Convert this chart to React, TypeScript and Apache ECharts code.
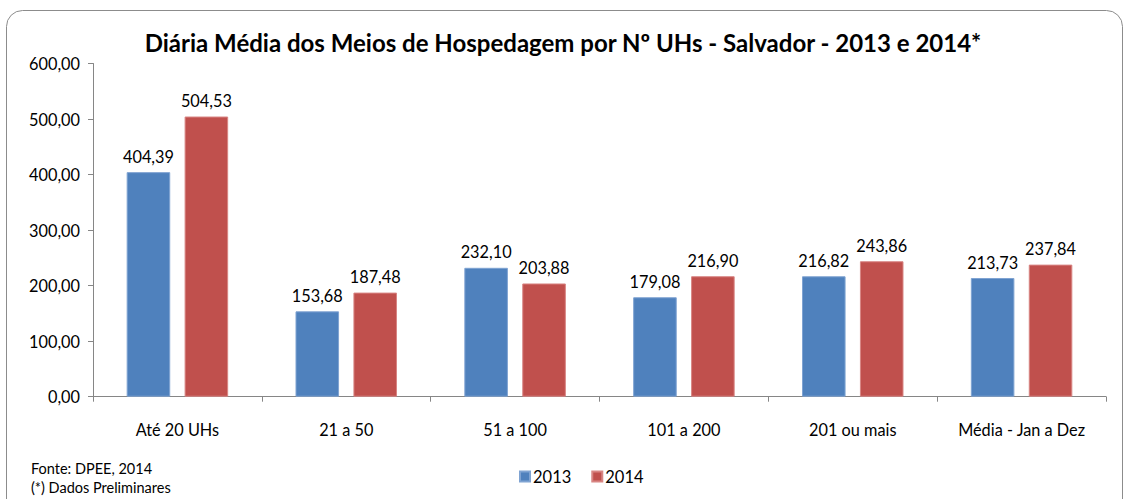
import React, { useEffect, useRef } from "react";
import * as echarts from "echarts";

const categories = ["Até 20 UHs", "21 a 50", "51 a 100", "101 a 200", "201 ou mais", "Média - Jan a Dez"];
const values2013 = [404.39, 153.68, 232.1, 179.08, 216.82, 213.73];
const values2014 = [504.53, 187.48, 203.88, 216.9, 243.86, 237.84];
const seriesNames = ["2013", "2014"];
const titleText = "Diária Média dos Meios de Hospedagem por Nº UHs - Salvador - 2013 e 2014*";
const sourceLines = ["Fonte: DPEE, 2014", "(*) Dados Preliminares"];

const FONT = "Lato, 'Open Sans', sans-serif";
const fmt = (v: number) => v.toFixed(2).replace(".", ",");

export default function App() {
  const ref = useRef<HTMLDivElement>(null);
  useEffect(() => {
    document.body.style.margin = "0";
    const chart = echarts.init(ref.current!, null, { renderer: "svg" });
    chart.setOption({
      animation: false,
      backgroundColor: "#ffffff",
      textStyle: { fontFamily: FONT },
      title: {
        text: titleText,
        left: "center",
        top: 25,
        textStyle: { fontFamily: FONT, fontWeight: "bold", fontSize: 24, color: "#000" },
      },
      legend: {
        data: seriesNames,
        left: 514,
        top: 463,
        itemWidth: 10,
        itemHeight: 10,
        itemGap: 20,
        icon: "rect",
        textStyle: { fontFamily: FONT, fontSize: 16.5, color: "#000", padding: [0, 0, 0, -2] },
      },
      grid: { left: 93, right: 20, top: 63.5, bottom: 102.3, containLabel: false },
      xAxis: {
        type: "category",
        data: categories,
        axisLine: { lineStyle: { color: "#868686", width: 1 } },
        axisTick: { show: true, length: 5, lineStyle: { color: "#868686" } },
        axisLabel: { margin: 25, fontSize: 16.3, color: "#000", fontFamily: FONT },
      },
      yAxis: {
        type: "value",
        min: 0,
        max: 600,
        interval: 100,
        axisLine: { show: true, lineStyle: { color: "#868686", width: 1 } },
        axisTick: { show: true, length: 5, lineStyle: { color: "#868686" } },
        splitLine: { show: false },
        axisLabel: { margin: 13, fontSize: 16.3, color: "#000", fontFamily: FONT, formatter: (v: number) => fmt(v) },
      },
      series: [
        {
          name: seriesNames[0],
          type: "bar",
          data: values2013,
          barWidth: "25.8%",
          barGap: "33%",
          itemStyle: { color: "#4F81BD", borderColor: "#7FA3D2", borderWidth: 1 },
          label: { show: true, position: "top", distance: 8, fontSize: 16.3, color: "#000", fontFamily: FONT, formatter: (p: any) => fmt(p.value) },
        },
        {
          name: seriesNames[1],
          type: "bar",
          data: values2014,
          barWidth: "25.8%",
          barGap: "33%",
          itemStyle: { color: "#C0504D", borderColor: "#D88583", borderWidth: 1 },
          label: { show: true, position: "top", distance: 8, fontSize: 16.3, color: "#000", fontFamily: FONT, formatter: (p: any) => fmt(p.value) },
        },
      ],
      graphic: [
        {
          type: "rect",
          shape: { x: 6.5, y: 10.5, width: 1116, height: 520, r: 16 },
          style: { fill: "none", stroke: "#8c8c8c", lineWidth: 1 },
          silent: true,
        },
        {
          type: "text",
          left: 31,
          top: 461,
          style: { text: sourceLines[0], fontFamily: FONT, fontSize: 14.5, fill: "#000" },
        },
        {
          type: "text",
          left: 31,
          top: 480,
          style: { text: sourceLines[1], fontFamily: FONT, fontSize: 14.5, fill: "#000" },
        },
      ],
    });
    return () => chart.dispose();
  }, []);
  return <div ref={ref} style={{ position: "fixed", left: 0, top: 0, width: 1126, height: 499 }} />;
}
